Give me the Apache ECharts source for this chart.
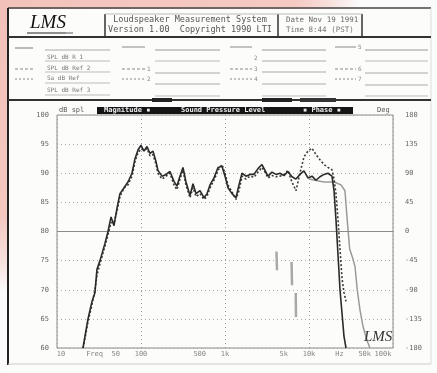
<!DOCTYPE html>
<html><head><meta charset="utf-8">
<script src="https://cdn.jsdelivr.net/npm/echarts@6/dist/echarts.min.js"></script>
<style>
html,body{margin:0;padding:0;background:#fcfcfb;}
#bgTop{position:absolute;left:0;top:0;width:437px;height:9px;background:linear-gradient(90deg,#f2c3bb 0%,#f4cac3 68%,#f8e2de 76%,#fbfbfb 82%);}
#bgLeft{position:absolute;left:0;top:0;width:7px;height:373px;background:linear-gradient(180deg,#f2c1b9 0%,#f4c8c1 58%,#f7e0dc 70%,#fbfbfb 78%);}
#c{position:absolute;left:0;top:0;width:437px;height:373px;}
</style></head>
<body>
<div id="bgTop"></div><div id="bgLeft"></div>
<div id="c"></div>
<script>
// ---- data ----
const dbTicks = ['100','95','90','85','80','75','70','65','60'];
const degTicks = ['180','135','90','45','0','-45','-90','-135','-180'];
const xTickFreqs = [10, 28, 50, 100, 500, 1000, 5000, 10000, 23000, 50000, 100000];
const xTickLabels = ['10','Freq','50','100','500','1k','5k','10k','Hz','50k','100k'];

// main magnitude (solid)
const freqA = [20.4,22.1,23.4,26.1,28.3,29.9,32.5,37.3,40.5,44.0,47.7,51.8,56.2,62.8,70.0,78.1,84.8,92.1,100,108.6,117.9,128,139,151,159,178,199,221,247,268,291,316,343,383,416,452,504,562,611,663,740,826,921,1000,1086,1211,1351,1468,1594,1778,1984,2213,2470,2756,2993,3250,3626,4046,4514,5036,5618,6268,6993,7802,8705,9712,10860,12110,13510,15080,16820,18770,19860,20950,22150,23390,24700,26100,27570];
const splA = [60,63,65,68,69.5,73.5,75,78,80,82.5,81,84,86.5,87.5,88.5,90,92.5,94,94.8,93.8,94.6,93.4,93.8,92,90.5,89.5,89.8,90.3,88.6,87.8,89.5,91,88.5,86.2,88.2,86.5,87,85.8,86.5,88,89.2,91,91.2,89.5,87.5,86.5,85.8,88,90,89.5,89.8,89.8,90.8,91.5,90.5,89.5,90.2,89.8,90,89.6,90.3,89.4,89,89.8,90.4,89.2,89.5,88.8,89.4,89.8,90,89.5,87,82,76,70,66,62,60];

// second magnitude (dotted)
const freqB = [20.4,22.1,23.4,26.1,28.3,29.9,32.5,37.3,40.5,44.0,47.7,51.8,56.2,62.8,70.0,78.1,84.8,92.1,100,108.6,117.9,128,139,151,159,178,199,221,247,268,291,316,343,383,416,452,504,562,611,663,740,826,921,1000,1086,1211,1351,1468,1594,1778,1984,2213,2470,2756,2993,3250,3626,4046,4514,5036,5618,6268,6993,7802,8705,9712,10860,12110,13510,15080,16820,18770,19860,20950,22150,23390,24700,26100,27570];
const splB = [60,62.5,64.5,67.5,70,72.5,74.5,77.5,79.5,81.5,81.5,83.5,86,87.5,88,89.5,92,93.5,94.2,94,94.2,93,93.2,91.5,90,89,89.5,90,88,87.2,89,90.5,88,85.8,87.5,86,86.5,85.5,86,87.5,88.8,90.5,91.5,90,88,86.8,85.5,87,89.5,89,89.5,89.3,90.2,91,90.2,89.2,89.6,89.4,89.5,89.8,90.5,88.5,87,90,92.8,93.8,94.3,93.2,92.3,91.5,91,90.6,89,86.5,82,77,72,69.5,68];

// third magnitude (grey, high end)
const freqC = [10000,15000,20000,24000,26800,28500,30500,33000,35300,37500,40500,43500,46400,50000,53200];
const splC = [89,88.5,88.5,88,87,82,77,75.5,74,70,66.5,64,62.5,61,60];

// phase fragments (grey, right axis)
const freqPh = [4100,4160,null,6200,6280,null,6950,7000];
const phaseDeg = [-31,-60,null,-47,-83,null,-95,-132];

const toPairs = (f, v) => f.map((x, i) => (x === null ? [null, null] : [x, v[i]]));

const chart = echarts.init(document.getElementById('c'), null, {renderer: 'canvas'});
const mono = '"DejaVu Sans Mono", monospace';
const txt = (x, y, s, opt = {}) => ({type: 'text', z: 10, style: Object.assign({x, y, text: s, fill: '#666', font: '7px ' + mono, verticalAlign: 'middle'}, opt)});
const ln = (x1, y1, x2, y2, c = '#999', w = 1, dash) => ({type: 'line', shape: {x1, y1, x2, y2}, style: {stroke: c, lineWidth: w, lineDash: dash}});

const gfx = [
  // outer frame
  ln(8, 8, 431, 8, '#444', 1.5),
  ln(8, 8, 8, 365, '#222', 2),
  ln(8, 364, 431, 364, '#ccc', 1),
  ln(431, 8, 431, 364, '#ddd', 1),
  ln(8, 37, 431, 37, '#333', 2),
  ln(8, 100, 431, 100, '#333', 2),
  {type: 'rect', shape: {x: 152, y: 98, width: 20, height: 4}, style: {fill: '#222'}},
  {type: 'rect', shape: {x: 262, y: 98, width: 30, height: 4}, style: {fill: '#222'}},
  {type: 'rect', shape: {x: 300, y: 98, width: 36, height: 4}, style: {fill: '#333'}},
  // header boxes
  ln(105, 14, 105, 36, '#333', 1.5),
  ln(278, 14, 278, 36, '#333', 1.5),
  ln(362, 14, 362, 36, '#333', 1.5),
  ln(105, 14, 362, 14, '#bbb', 1),
  txt(30, 23, 'LMS', {fill: '#111', font: 'italic 19px "Liberation Serif", serif'}),
  ln(27, 33, 66, 33, '#222', 1),
  ln(66, 33, 73, 33, '#aaa', 2),
  txt(190, 20, 'Loudspeaker Measurement System', {fill: '#555', font: '8.5px ' + mono, align: 'center'}),
  txt(190, 30, 'Version 1.00  Copyright 1990 LTI', {fill: '#555', font: '8.5px ' + mono, align: 'center'}),
  txt(286, 20, 'Date Nov 19 1991', {fill: '#666', font: '7.5px ' + mono}),
  txt(286, 30, 'Time 8:44 (PST)', {fill: '#777', font: '7.5px ' + mono}),
  // info table col 1
  ln(15, 48, 33, 48, '#777', 1),
  ln(15, 69, 33, 69, '#888', 1, [3, 2]),
  ln(15, 79, 33, 79, '#888', 1, [2, 2]),
  ln(45, 50, 110, 50, '#aaa', 1),
  txt(47, 57, 'SPL dB R 1', {fill: '#777', font: '6px ' + mono}),
  ln(45, 61, 110, 61, '#bbb', 1),
  txt(47, 68, 'SPL dB Ref 2', {fill: '#777', font: '6px ' + mono}),
  ln(45, 72, 110, 72, '#bbb', 1),
  txt(47, 78, 'Sa dB Ref', {fill: '#777', font: '6px ' + mono}),
  ln(45, 83, 110, 83, '#bbb', 1),
  txt(47, 90, 'SPL dB Ref 3', {fill: '#777', font: '6px ' + mono}),
  ln(45, 95, 110, 95, '#bbb', 1),
  // col 2
  ln(122, 47, 145, 47, '#888', 1),
  ln(122, 69, 145, 69, '#888', 1, [3, 2]),
  txt(147, 69, '1', {fill: '#888', font: '6px ' + mono}),
  ln(122, 79, 145, 79, '#888', 1, [2, 2]),
  txt(147, 79, '2', {fill: '#888', font: '6px ' + mono}),
  ln(155, 50, 220, 50, '#999', 1), ln(155, 61, 220, 61, '#bbb', 1), ln(155, 73, 220, 73, '#aaa', 1), ln(155, 84, 220, 84, '#aaa', 1), ln(155, 96, 220, 96, '#bbb', 1),
  // col 3
  ln(230, 47, 252, 47, '#888', 1),
  txt(254, 58, '2', {fill: '#888', font: '6px ' + mono}),
  ln(230, 69, 252, 69, '#888', 1, [3, 2]),
  txt(254, 69, '3', {fill: '#888', font: '6px ' + mono}),
  ln(230, 79, 252, 79, '#888', 1, [2, 2]),
  txt(254, 79, '4', {fill: '#888', font: '6px ' + mono}),
  ln(262, 50, 326, 50, '#999', 1), ln(262, 61, 326, 61, '#aaa', 1), ln(262, 72, 326, 72, '#aaa', 1), ln(262, 84, 326, 84, '#aaa', 1), ln(262, 96, 326, 96, '#bbb', 1),
  // col 4
  ln(335, 47, 356, 47, '#888', 1),
  txt(358, 47, '5', {fill: '#888', font: '6px ' + mono}),
  ln(335, 69, 356, 69, '#888', 1, [3, 2]),
  txt(358, 69, '6', {fill: '#888', font: '6px ' + mono}),
  ln(335, 79, 356, 79, '#888', 1, [2, 2]),
  txt(358, 79, '7', {fill: '#888', font: '6px ' + mono}),
  ln(365, 50, 428, 50, '#999', 1), ln(365, 61, 428, 61, '#bbb', 1), ln(365, 73, 428, 73, '#aaa', 1), ln(365, 85, 428, 85, '#aaa', 1), ln(365, 96, 428, 96, '#bbb', 1),
  // chart title bar
  txt(59, 110, 'dB spl', {fill: '#555', font: '7px ' + mono}),
  txt(377, 110, 'Deg', {fill: '#555', font: '7px ' + mono}),
  {type: 'rect', z: 9, shape: {x: 97, y: 107, width: 256, height: 7}, style: {fill: '#151515'}},
  txt(104, 110.5, 'Magnitude \u25AA', {fill: '#eee', font: 'bold 7px ' + mono}),
  txt(181, 110.5, 'Sound Pressure Level', {fill: '#eee', font: 'bold 7px ' + mono}),
  txt(303, 110.5, '\u25AA Phase \u25AA', {fill: '#eee', font: 'bold 7px ' + mono}),
  txt(364, 337, 'LMS', {fill: '#333', font: 'italic 15px "Liberation Serif", serif'})
];

chart.setOption({
  animation: false,
  backgroundColor: 'transparent',
  grid: {left: 57, right: 44, top: 115, bottom: 25, show: true, borderColor: '#8a8a8a', borderWidth: 1},
  xAxis: {
    type: 'log', logBase: 10, min: 10, max: 100000,
    axisLine: {show: false}, axisTick: {show: false}, axisLabel: {show: false},
    splitLine: {show: true, lineStyle: {color: '#9a9a9a', type: [1, 3], width: 1}}
  },
  yAxis: [{
    type: 'value', min: 60, max: 100, interval: 5,
    axisLine: {show: false}, axisTick: {show: false},
    axisLabel: {color: '#666', fontSize: 7, fontFamily: mono, margin: 8,
      formatter: v => dbTicks[Math.round((100 - v) / 5)]},
    splitLine: {show: true, lineStyle: {color: '#aaaaaa', type: [1, 3], width: 1}}
  }, {
    type: 'value', min: -180, max: 180, interval: 45, position: 'right',
    axisLine: {show: false}, axisTick: {show: false},
    axisLabel: {color: '#666', fontSize: 7, fontFamily: mono, margin: 12,
      formatter: v => degTicks[Math.round((180 - v) / 45)]},
    splitLine: {show: false}
  }],
  graphic: gfx,
  series: [
    {type: 'line', name: 'phase', yAxisIndex: 1, data: toPairs(freqPh, phaseDeg), showSymbol: false, connectNulls: false,
      lineStyle: {color: '#a8a8a8', width: 2.5}, z: 2},
    {type: 'line', name: 'grey', data: toPairs(freqC, splC), showSymbol: false,
      lineStyle: {color: '#9a9a9a', width: 1.5}, z: 3},
    {type: 'line', name: 'B', data: toPairs(freqB, splB), showSymbol: false,
      lineStyle: {color: '#3a3a3a', width: 1.6, type: [2, 2]}, z: 4},
    {type: 'line', name: 'A', data: toPairs(freqA, splA), showSymbol: false,
      lineStyle: {color: '#2a2a2a', width: 1.6}, z: 5,
      markLine: {silent: true, symbol: 'none', label: {show: false},
        lineStyle: {color: '#8a8a8a', type: 'solid', width: 1}, data: [{yAxis: 80}]}},
    {type: 'scatter', name: 'xlabels', data: xTickFreqs.map(f => [f, 60]), symbolSize: 0, silent: true,
      label: {show: true, position: 'bottom', distance: 3, color: '#666', fontSize: 7, fontFamily: mono,
        formatter: p => xTickLabels[p.dataIndex]},
      labelLayout: p => (p.dataIndex === 0 ? {dx: 4} : p.dataIndex === 9 ? {dx: -3} : p.dataIndex === xTickLabels.length - 1 ? {dx: -10} : {})}
  ]
});
</script>
</body></html>
